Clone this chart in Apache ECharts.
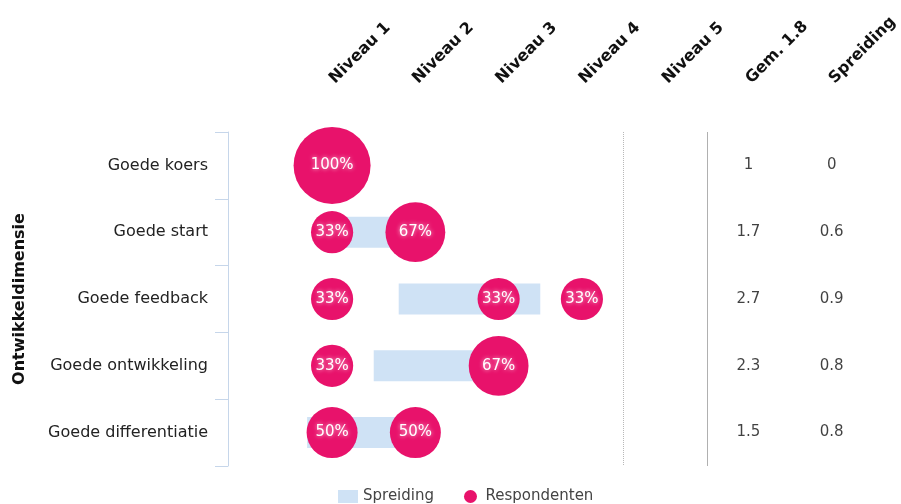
<!DOCTYPE html>
<html>
<head>
<meta charset="utf-8">
<script src="https://cdn.jsdelivr.net/npm/echarts@6/dist/echarts.min.js"></script>
<style>
  html, body { margin: 0; padding: 0; background: #fff; }
  #chart { width: 901px; height: 504px; }
</style>
</head>
<body>
<div id="chart"></div>
<script>
var categories = ['Goede koers', 'Goede start', 'Goede feedback', 'Goede ontwikkeling', 'Goede differentiatie'];
var columnLabels = ['Niveau 1', 'Niveau 2', 'Niveau 3', 'Niveau 4', 'Niveau 5', 'Gem. 1.8', 'Spreiding'];

// respondents per category: [niveau, percentage]
var respondenten = [
    [[1, 100]],
    [[1, 33], [2, 67]],
    [[1, 33], [3, 33], [4, 33]],
    [[1, 33], [3, 67]],
    [[1, 50], [2, 50]]
];

// spreiding band (start / end on niveau scale)
var spreidingStart = [1, 1.1, 1.8, 1.5, 0.7];
var spreidingEnd = [1, 2.2, 3.5, 3.1, 2.2];

var gemiddelde = [1, 1.7, 2.7, 2.3, 1.5];
var spreiding = [0, 0.6, 0.9, 0.8, 0.8];

var GEM_X = 6, SPREIDING_X = 7;

var bubbleData = [];
respondenten.forEach(function (rows, i) {
    rows.forEach(function (r) {
        bubbleData.push([r[0], categories[i], r[1]]);
    });
});

var chart = echarts.init(document.getElementById('chart'));
var font = 'DejaVu Sans, Verdana, sans-serif';

option = {
    textStyle: { fontFamily: font },
    animation: false,
    legend: {
        left: 333,
        top: 484,
        itemWidth: 20,
        itemHeight: 13,
        itemGap: 30,
        textStyle: { color: '#444', fontSize: 15 },
        data: [
            { name: 'Spreiding', icon: 'rect' },
            { name: 'Respondenten', icon: 'circle' }
        ]
    },
    grid: {
        left: 228,
        right: 26,
        top: 132,
        bottom: 38
    },
    xAxis: {
        type: 'value',
        position: 'top',
        min: -0.25,
        max: 7.5,
        splitLine: { show: false },
        axisLine: { show: false },
        axisTick: { show: false },
        axisLabel: {
            customValues: [1, 2, 3, 4, 5, 6, 7],
            rotate: -45,
            margin: 51,
            color: '#111',
            fontWeight: 'bold',
            fontSize: 16,
            formatter: function (v) {
                return columnLabels[Math.round(v) - 1];
            }
        }
    },
    yAxis: {
        type: 'category',
        inverse: true,
        data: categories,
        name: 'Ontwikkeldimensie',
        nameLocation: 'middle',
        nameRotate: 90,
        nameGap: 200,
        nameTextStyle: { color: '#111', fontWeight: 'bold', fontSize: 16 },
        axisLine: { onZero: false, lineStyle: { color: '#c6d6ea' } },
        axisTick: { show: true, length: 13, lineStyle: { color: '#c6d6ea' } },
        axisLabel: { color: '#222', fontSize: 16, margin: 20 }
    },
    series: [
        {
            name: 'base',
            type: 'bar',
            stack: 'spreiding',
            barWidth: 31,
            silent: true,
            itemStyle: { color: 'transparent' },
            data: spreidingStart
        },
        {
            name: 'Spreiding',
            type: 'bar',
            stack: 'spreiding',
            barWidth: 31,
            itemStyle: { color: '#cfe2f5' },
            data: spreidingEnd.map(function (e, i) { return e - spreidingStart[i]; })
        },
        {
            name: 'Respondenten',
            type: 'scatter',
            z: 5,
            symbolSize: function (d) { return 25 + 0.52 * d[2]; },
            itemStyle: { color: '#e8126b', opacity: 1 },
            label: {
                show: true,
                position: 'inside',
                color: '#fff',
                fontSize: 15,
                fontWeight: 500,
                textShadowColor: 'rgba(255,255,255,0.8)',
                textShadowBlur: 4,
                formatter: function (p) { return p.value[2] + '%'; }
            },
            markLine: {
                silent: true,
                symbol: 'none',
                label: { show: false },
                data: [
                    { xAxis: 4.5, lineStyle: { type: 'dotted', color: '#b8b8b8', width: 1 } },
                    { xAxis: 5.5, lineStyle: { type: 'solid', color: '#b0b0b0', width: 1 } }
                ]
            },
            data: bubbleData
        },
        {
            name: 'gem',
            type: 'scatter',
            symbolSize: 1,
            itemStyle: { color: 'transparent' },
            label: {
                show: true,
                position: 'inside',
                color: '#111',
                fontSize: 15,
                formatter: function (p) { return p.value[2]; }
            },
            data: categories.map(function (c, i) { return [GEM_X, c, gemiddelde[i]]; })
        },
        {
            name: 'spreid',
            type: 'scatter',
            symbolSize: 1,
            itemStyle: { color: 'transparent' },
            label: {
                show: true,
                position: 'inside',
                color: '#111',
                fontSize: 15,
                formatter: function (p) { return p.value[2]; }
            },
            data: categories.map(function (c, i) { return [SPREIDING_X, c, spreiding[i]]; })
        }
    ]
};

chart.setOption(option);
</script>
</body>
</html>
